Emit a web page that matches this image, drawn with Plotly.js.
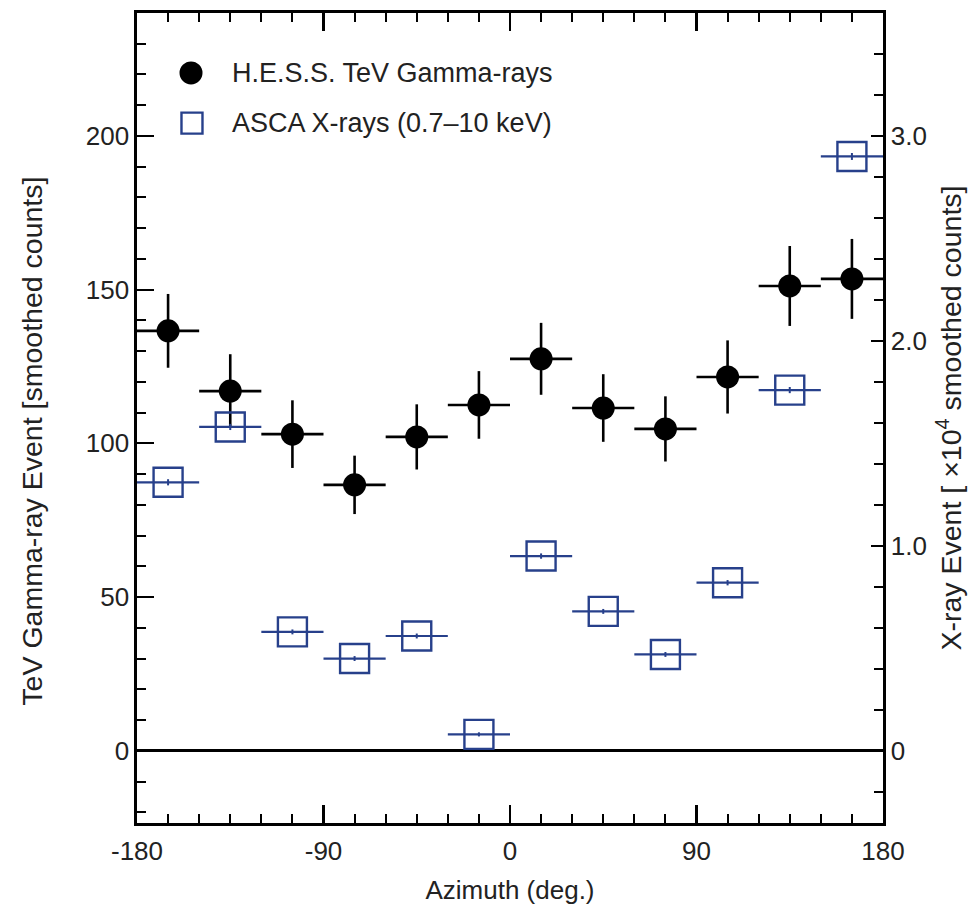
<!DOCTYPE html>
<html>
<head>
<meta charset="utf-8">
<script src="https://cdn.plot.ly/plotly-3.0.1.min.js"></script>
<style>html,body{margin:0;padding:0;background:#fff;}</style>
</head>
<body>
<div id="chart" style="width:978px;height:909px;"></div>
<script>
// Azimuth bin centres (deg.)
const azimuth = [-165, -135, -105, -75, -45, -15, 15, 45, 75, 105, 135, 165];
const azimuthHalfWidth = 15;
// H.E.S.S. TeV gamma-ray events [smoothed counts]
const hessCounts = [136.6, 117.0, 103.0, 86.5, 102.1, 112.5, 127.5, 111.5, 104.7, 121.6, 151.2, 153.5];
const hessErr    = [12.0, 12.0, 11.0, 9.5, 10.6, 11.0, 11.7, 11.0, 10.6, 11.9, 13.0, 13.0];
// ASCA X-ray events [x10^4 smoothed counts]
const ascaCounts = [1.31, 1.58, 0.58, 0.45, 0.56, 0.08, 0.95, 0.68, 0.47, 0.82, 1.76, 2.90];
const ascaErr    = [0.015, 0.015, 0.012, 0.012, 0.012, 0.010, 0.013, 0.012, 0.012, 0.013, 0.015, 0.017];
// tick labels
const xTickVals = [-180, -90, 0, 90, 180];
const xTickText = ['-180', '-90', '0', '90', '180'];
const y2TickVals = [0, 1, 2, 3];
const y2TickText = ['0', '1.0', '2.0', '3.0'];
const legendNames = ['H.E.S.S. TeV Gamma-rays', 'ASCA X-rays (0.7\u201310 keV)'];
const leftTitle = 'TeV Gamma-ray Event [smoothed counts]';
const rightTitle = 'X-ray Event [ \u00d710<sup>4</sup> smoothed counts]';
const xTitle = 'Azimuth (deg.)';

const blue = '#27408b';
const FONT = 'Liberation Sans, Arial, Helvetica, sans-serif';
const TXT = '#222';

const y2Minor = [];
for (let v = -0.2; v < 3.6; v += 0.2) y2Minor.push(Math.round(v * 10) / 10);

const traces = [
  {
    type: 'scatter', mode: 'markers', name: legendNames[0],
    x: azimuth, y: hessCounts,
    marker: {symbol: 'circle', size: 23, color: 'black'},
    error_x: {type: 'constant', value: azimuthHalfWidth, width: 0, thickness: 2.6, color: 'black'},
    error_y: {type: 'data', array: hessErr, visible: true, width: 0, thickness: 2.6, color: 'black'},
    xaxis: 'x', yaxis: 'y'
  },
  {
    type: 'scatter', mode: 'markers', name: legendNames[1],
    x: azimuth, y: ascaCounts,
    marker: {symbol: 'square-open', size: 29, color: blue, line: {width: 2.4, color: blue}},
    error_x: {type: 'constant', value: azimuthHalfWidth, width: 0, thickness: 2.2, color: blue},
    error_y: {type: 'data', array: ascaErr, visible: true, width: 0, thickness: 2, color: blue},
    xaxis: 'x', yaxis: 'y2'
  }
];

const layout = {
  width: 978, height: 909,
  margin: {l: 137, r: 95, t: 13, b: 86, pad: 0},
  paper_bgcolor: 'white', plot_bgcolor: 'white',
  showlegend: false,
  font: {family: FONT, size: 26, color: TXT},
  xaxis: {
    range: [-180, 180], tickmode: 'array', tickvals: xTickVals, ticktext: xTickText,
    ticks: 'inside', ticklen: 18, tickwidth: 2.2, tickcolor: 'black',
    showline: true, linewidth: 2.6, linecolor: 'black', mirror: 'ticks',
    showgrid: false, zeroline: false, ticklabelstandoff: 3,
    minor: {tick0: -180, dtick: 15, ticks: 'inside', ticklen: 9, tickwidth: 2, tickcolor: 'black', showgrid: false},
    tickfont: {size: 26, color: TXT},
    title: {text: xTitle, font: {size: 26, color: TXT}, standoff: 16}
  },
  yaxis: {
    range: [-23.5, 240], tick0: 0, dtick: 50,
    ticks: 'inside', ticklen: 17, tickwidth: 2.2, tickcolor: 'black',
    showline: true, linewidth: 2.6, linecolor: 'black',
    showgrid: false, zeroline: true, zerolinecolor: 'black', zerolinewidth: 2.6,
    minor: {tick0: 0, dtick: 10, ticks: 'inside', ticklen: 9, tickwidth: 2, tickcolor: 'black', showgrid: false},
    tickfont: {size: 26, color: TXT}
  },
  yaxis2: {
    overlaying: 'y', side: 'right',
    range: [-0.3525, 3.6], tickmode: 'array', tickvals: y2TickVals, ticktext: y2TickText,
    ticks: 'inside', ticklen: 12, tickwidth: 2.2, tickcolor: 'black',
    showline: true, linewidth: 2.6, linecolor: 'black',
    showgrid: false, zeroline: false,
    minor: {tickmode: 'array', tickvals: y2Minor, ticks: 'inside', ticklen: 9, tickwidth: 2, tickcolor: 'black', showgrid: false},
    tickfont: {size: 26, color: TXT},
    title: {text: rightTitle, font: {size: 28.5, color: TXT}, standoff: 15}
  },
  shapes: [
    {type: 'circle', xref: 'paper', yref: 'paper', xsizemode: 'pixel', ysizemode: 'pixel',
     xanchor: 0.0724, yanchor: 0.926, x0: -11.5, x1: 11.5, y0: -11.5, y1: 11.5,
     fillcolor: 'black', line: {width: 0}},
    {type: 'rect', xref: 'paper', yref: 'paper', xsizemode: 'pixel', ysizemode: 'pixel',
     xanchor: 0.0737, yanchor: 0.864, x0: -10.5, x1: 10.5, y0: -10.5, y1: 10.5,
     fillcolor: 'rgba(0,0,0,0)', line: {width: 2.4, color: blue}}
  ],
  annotations: [
    {xref: 'paper', yref: 'paper', x: 0.1247, y: 0.926, xanchor: 'left', yanchor: 'middle',
     text: legendNames[0], showarrow: false, font: {size: 27, color: TXT, family: FONT}},
    {xref: 'paper', yref: 'paper', x: 0.1247, y: 0.864, xanchor: 'left', yanchor: 'middle',
     text: legendNames[1], showarrow: false, font: {size: 27, color: TXT, family: FONT}},
    {xref: 'paper', yref: 'paper', x: -0.1408, y: 0.472, xanchor: 'center', yanchor: 'middle',
     textangle: -90, text: leftTitle, showarrow: false, font: {size: 28.5, color: TXT, family: FONT}}
  ]
};

Plotly.newPlot('chart', traces, layout, {displayModeBar: false, staticPlot: true});
</script>
</body>
</html>
